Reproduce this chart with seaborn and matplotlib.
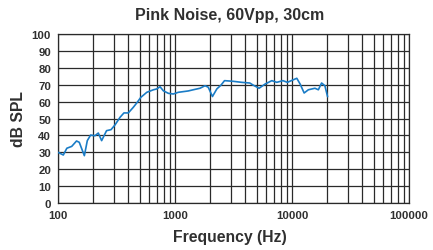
import numpy as np
import pandas as pd
import matplotlib
matplotlib.use("Agg")
from matplotlib import pyplot as plt
from matplotlib.ticker import FixedLocator, FixedFormatter, NullFormatter
import seaborn as sns

# frequency response
freq_hz = [100, 111, 119, 131, 144, 152, 168, 178, 190, 207, 221, 236, 260, 284,
           307, 339, 366, 399, 440, 476, 510, 574, 654, 699, 745, 795, 877, 967,
           1067, 1177, 1298, 1432, 1636, 1806, 1924, 2090, 2278, 2476, 2650, 3153,
           3707, 4360, 4646, 5230, 5897, 6720, 7415, 8352, 9137, 10990, 11730,
           12700, 13800, 15700, 16800, 17900, 19100, 20150]
spl_db = [30, 28.4, 32.4, 33.5, 36.7, 35.9, 28, 36.9, 40.2, 39.8, 41.4, 36.9, 42.8, 43.4,
          46.2, 50.7, 53.3, 53.3, 56.6, 59.6, 62.5, 65.5, 67, 67.5, 68.8, 66.4, 64.9, 64.5,
          65.5, 65.9, 66.3, 67, 67.9, 69.4, 68.5, 63, 67.5, 69.8, 72.4, 72,
          71.4, 71, 69.8, 67.9, 70.4, 72.4, 71.4, 72.4, 71.4, 73.8, 70.4,
          65.1, 67, 67.9, 67, 71, 69.4, 62.9]
x_ticks = [100, 1000, 10000, 100000]
x_labels = ["100", "1000", "10000", "100000"]
y_ticks = list(range(0, 101, 10))

df = pd.DataFrame({"Frequency (Hz)": freq_hz, "dB SPL": spl_db})

sns.set_style("white")
plt.rcParams['font.family'] = ['Liberation Sans', 'DejaVu Sans']
plt.rcParams['font.weight'] = 'bold'
txt = "#303030"

fig = plt.figure(figsize=(4.33, 2.51), dpi=100)
ax = fig.add_axes([58/433, 1 - 204/251, 351/433, 169/251])

sns.lineplot(data=df, x="Frequency (Hz)", y="dB SPL", ax=ax, color="#1a7cc6",
             linewidth=1.2, zorder=3)

ax.set_xscale("log")
ax.set_xlim(100, 100000)
ax.set_ylim(0, 100)

minor = [m * 10**e for e in range(2, 5) for m in range(2, 10)]
ax.xaxis.set_major_locator(FixedLocator(x_ticks))
ax.xaxis.set_major_formatter(FixedFormatter(x_labels))
ax.xaxis.set_minor_locator(FixedLocator(minor))
ax.xaxis.set_minor_formatter(NullFormatter())
ax.set_yticks(y_ticks)

ax.grid(which="both", axis="x", color="#2a2a2a", linewidth=0.9)
ax.grid(which="major", axis="y", color="#2a2a2a", linewidth=0.9)
for s in ax.spines.values():
    s.set_color("#2a2a2a")
    s.set_linewidth(0.9)

ax.tick_params(axis="both", which="major", length=3, width=0.9, color="#2a2a2a",
               direction="out", labelsize=8.2, pad=2, labelcolor=txt)
ax.tick_params(axis="x", which="minor", length=0)
for lab in ax.get_xticklabels() + ax.get_yticklabels():
    lab.set_fontweight("bold")

ax.set_title("Pink Noise, 60Vpp, 30cm", fontsize=11.5, fontweight="bold", pad=11,
             color=txt, x=0.49)
ax.set_xlabel("Frequency (Hz)", fontsize=11.3, fontweight="bold", labelpad=8, color=txt)
ax.xaxis.set_label_coords(0.49, -0.155)
ax.set_ylabel("dB SPL", fontsize=11.3, fontweight="bold", labelpad=4, color=txt)

fig.savefig("out.png", dpi=100)
